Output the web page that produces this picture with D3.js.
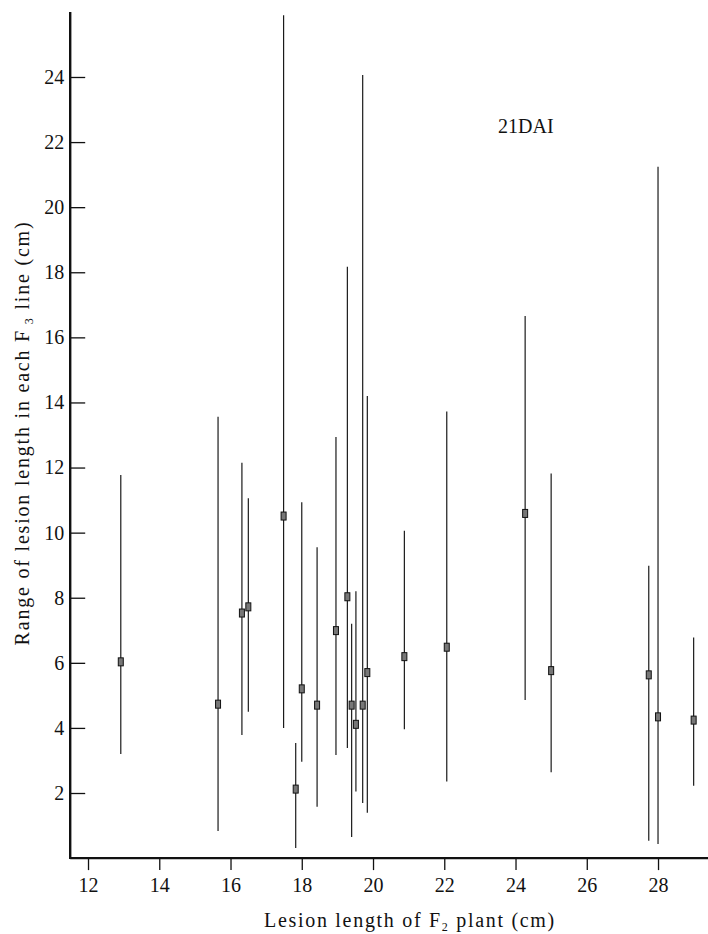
<!DOCTYPE html>
<html>

<head>
  <title>Lesion length range, 21DAI</title>
  <style>
    body {
      margin: 0;
      background: #fff;
    }

    svg text {
      fill: #111;
    }

    line.bar {
      stroke: #1a1a1a;
      stroke-width: 1.2;
    }

    rect.box {
      fill: #777;
      stroke: #111;
      stroke-width: 1;
    }
  </style>
</head>

<body>
  <svg width="708" height="934" id="chart"></svg>

  <script src="https://cdn.jsdelivr.net/npm/d3@7"></script>
  <script>
    // F2 plant lesion length (x), and per F3 line: min, mean, max
    var plantLength = [12.92, 15.65, 16.32, 16.5, 17.49, 17.83, 18.0, 18.43, 18.96, 19.28,
      19.40, 19.52, 19.71, 19.84, 20.88, 22.07, 24.27, 25.0, 27.74, 28.0, 29.0];
    var lineMin = [3.2, 0.83, 3.78, 4.5, 4.0, 0.31, 2.96, 1.58, 3.17, 3.38,
      0.65, 2.05, 1.69, 1.39, 3.96, 2.35, 4.86, 2.64, 0.53, 0.43, 2.22];
    var lineMean = [6.03, 4.73, 7.53, 7.72, 10.51, 2.12, 5.2, 4.7, 6.99, 8.03,
      4.7, 4.11, 4.7, 5.7, 6.19, 6.48, 10.59, 5.76, 5.63, 4.34, 4.24];
    var lineMax = [11.77, 13.56, 12.15, 11.06, 25.9, 3.54, 10.93, 9.55, 12.94, 18.17,
      7.2, 8.2, 24.06, 14.2, 10.06, 13.72, 16.66, 11.82, 8.98, 21.24, 6.78];

    var xTicks = [12, 14, 16, 18, 20, 22, 24, 26, 28];
    var yTicks = [2, 4, 6, 8, 10, 12, 14, 16, 18, 20, 22, 24];

    var dataset = plantLength.map((d, i) => ({ x: d, lo: lineMin[i], mean: lineMean[i], hi: lineMax[i] }));

    var serif = 'Liberation Serif';
    var svg = d3.select('#chart');

    var x = d3.scaleLinear().domain([11.5, 29.4]).range([70.2, 707.9]);
    var y = d3.scaleLinear().domain([0, 26]).range([858.1, 11.9]);

    // x axis, ticks pointing down
    var xAxis = svg.append('g')
      .attr('transform', 'translate(0,' + y(0) + ')')
      .call(d3.axisBottom(x).tickValues(xTicks).tickSize(12).tickPadding(8).tickFormat(d3.format('d')));
    xAxis.select('.domain').remove();
    xAxis.selectAll('.tick line').attr('stroke', '#111').attr('stroke-width', 1.3);
    xAxis.attr('font-family', serif).attr('font-size', 20);
    xAxis.selectAll('.tick text').attr('fill', '#111');

    svg.append('line')
      .attr('x1', x(11.5)).attr('x2', 708)
      .attr('y1', y(0)).attr('y2', y(0))
      .attr('stroke', '#111')
      .attr('stroke-width', 2.2);

    // y axis, ticks pointing into the plot
    var yAxis = svg.append('g')
      .attr('transform', 'translate(' + x(11.5) + ',0)')
      .call(d3.axisRight(y).tickValues(yTicks).tickSize(15).tickFormat(d3.format('d')));
    yAxis.select('.domain').remove();
    yAxis.selectAll('.tick line').attr('stroke', '#111').attr('stroke-width', 1.3);
    yAxis.attr('font-family', serif).attr('font-size', 20);
    yAxis.selectAll('.tick text')
      .attr('x', -6)
      .attr('text-anchor', 'end')
      .attr('fill', '#111');

    svg.append('line')
      .attr('x1', x(11.5)).attr('x2', x(11.5))
      .attr('y1', y(0) + 1).attr('y2', y(26))
      .attr('stroke', '#111')
      .attr('stroke-width', 2.4);

    // range bars
    var enter = svg.append('g')
      .selectAll('g')
      .data(dataset)
      .enter();

    enter.append('line')
      .attr('class', 'bar')
      .attr('x1', d => x(d.x))
      .attr('x2', d => x(d.x))
      .attr('y1', d => y(d.lo))
      .attr('y2', d => y(Math.min(d.hi, 26)));

    enter.append('rect')
      .attr('class', 'box')
      .attr('x', d => x(d.x) - 2.5)
      .attr('y', d => y(d.mean) - 4)
      .attr('width', 5)
      .attr('height', 8);

    // labels
    var labels = svg.append('g')
      .attr('font-family', serif)
      .attr('font-size', 20);

    labels.append('text')
      .attr('x', 498)
      .attr('y', 133)
      .text('21DAI');

    var xl = labels.append('text')
      .attr('x', 410)
      .attr('y', 927)
      .attr('text-anchor', 'middle')
      .attr('letter-spacing', 1.7);
    xl.append('tspan').text('Lesion length of F');
    xl.append('tspan').attr('font-size', 12).attr('dy', 4).text('2');
    xl.append('tspan').attr('dy', -4).text(' plant (cm)');

    var yl = labels.append('text')
      .attr('transform', 'translate(29,433) rotate(-90)')
      .attr('text-anchor', 'middle')
      .attr('letter-spacing', 1.8);
    yl.append('tspan').text('Range of lesion length in each F');
    yl.append('tspan').attr('font-size', 12).attr('dy', 4).text(' 3');
    yl.append('tspan').attr('dy', -4).text(' line (cm)');
  </script>
</body>

</html>
